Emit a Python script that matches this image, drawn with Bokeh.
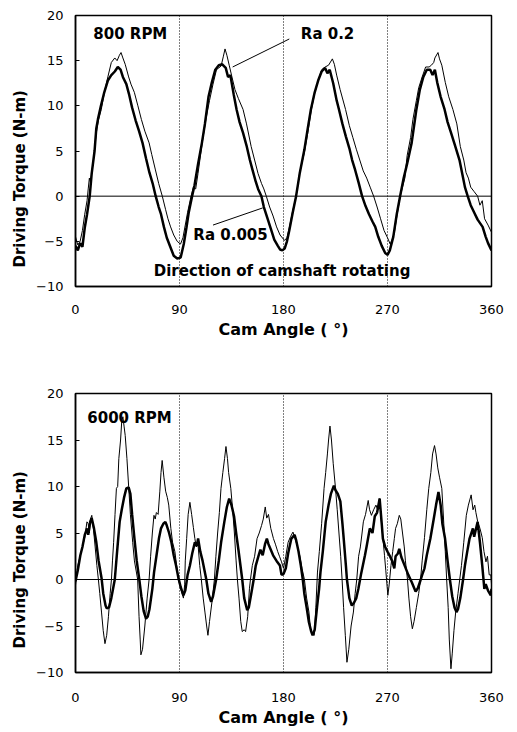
from bokeh.plotting import figure
from bokeh.layouts import column
from bokeh.models import Span, Label, FixedTicker, Range1d, Title
from bokeh.embed import file_html
from bokeh.resources import INLINE

# ---------------- data ----------------
x_ticks = [0, 90, 180, 270, 360]
y_ticks = [-10, -5, 0, 5, 10, 15, 20]
cycle_marks = [90, 180, 270]

# 800 RPM, Ra 0.005 (thick)
ang_800_a = [0, 2, 4, 6, 8, 10, 12.3, 14, 16.5, 18,
             19.4, 22, 24.9, 28, 31, 34, 36.6, 39, 41, 44,
             46.3, 49, 52, 55, 58, 61, 64, 67, 69.4, 72,
             74, 76.5, 79, 82, 85, 88, 91, 93.7, 96, 98,
             100.9, 103, 106, 109.4, 112, 115.1, 118, 121, 124, 127,
             130, 132, 134, 137, 139.4, 142, 145, 148, 150.9, 153,
             156, 158, 160.9, 163, 166, 169, 172, 175.1, 177, 179,
             181, 183, 185, 188, 190.9, 194, 198, 201, 203.7, 207,
             210, 213, 216, 218, 220, 223, 226, 228, 231, 234,
             237, 239.4, 242, 245, 248, 251, 254, 257, 259.4, 262,
             265, 268, 270, 272, 275, 278, 280.9, 284, 287, 290.9,
             293, 295, 298, 301, 304, 307, 309, 311, 313, 316,
             319.4, 322, 325, 328, 332.3, 335, 337, 339.4, 342, 345,
             348, 352.3, 355, 357, 360]
torque_800_a = [-5.5, -6.0, -5.2, -5.6, -3.5, -2.0, 0, 2.5, 5.0, 7.5,
                8.5, 10.0, 11.5, 12.8, 13.4, 13.8, 14.3, 14.0, 13.2, 12.4,
                11.3, 9.8, 8.4, 7.2, 5.9, 4.2, 2.6, 1.3, 0, -1.2,
                -2.0, -3.4, -4.6, -5.6, -6.6, -6.9, -6.8, -5.3, -3.5, -1.8,
                0, 1.2, 3.5, 5.9, 8.0, 11.0, 12.6, 14.0, 14.5, 14.6,
                14.2, 13.2, 13.4, 11.2, 9.6, 8.2, 7.0, 5.6, 4.0, 3.0,
                1.6, 0.8, 0, -1.2, -2.4, -3.6, -4.8, -5.5, -5.9, -6.0,
                -5.8, -5.0, -3.8, -1.8, 0, 2.5, 5.1, 7.5, 9.6, 11.5,
                12.8, 13.8, 14.2, 13.6, 14.0, 12.5, 10.6, 9.6, 8.0, 6.6,
                5.3, 4.0, 2.9, 1.5, 0, -1.1, -2.0, -2.8, -3.4, -4.5,
                -5.5, -6.3, -6.5, -6.0, -4.5, -2.0, 0, 2.0, 3.6, 5.9,
                7.8, 9.6, 11.8, 13.2, 14.0, 14.0, 13.4, 14.0, 12.6, 11.0,
                9.6, 8.2, 7.0, 5.8, 4.0, 2.3, 1.0, 0, -1.0, -1.8,
                -2.6, -3.4, -4.5, -5.2, -6.0]

# 800 RPM, Ra 0.2 (thin)
ang_800_b = [0, 2, 4, 6, 8, 10, 11, 12, 13, 14,
             16, 18, 20, 22.3, 25, 28, 31, 34, 36, 38,
             39.4, 41, 43, 46, 48, 50.9, 54, 57, 60, 63.7,
             66, 69, 72, 75.1, 78, 80, 82.3, 85, 88, 90.9,
             93, 95, 97, 100, 102, 104, 106, 110, 113, 116,
             119, 122, 124, 126, 128, 129.4, 131, 133, 135, 138,
             141, 145, 148, 152, 155, 158, 161, 163, 165.1, 168,
             171, 174, 177, 180.9, 183, 185, 188, 190.9, 194, 198,
             201, 204, 207, 210, 213, 216, 219, 222.3, 224, 226,
             229, 233.7, 237, 240, 243, 246, 249, 252, 255, 258,
             261, 264, 267, 270, 272.3, 274, 276, 278, 281, 283,
             285, 287, 290, 292, 295, 297, 300, 303, 306, 308,
             310, 311, 313.7, 315, 317, 320, 323, 326.6, 330, 333,
             336, 338, 340, 342, 345, 348, 350, 352, 354, 357,
             360]
torque_800_b = [-4.5, -5.4, -5.0, -3.8, -2.0, -0.5, 0.8, 2.0, 1.5, 2.5,
                4.5, 7.0, 8.5, 9.6, 11.5, 13.2, 14.8, 15.3, 15.0, 15.6,
                15.9, 15.3, 14.6, 13.2, 12.4, 11.5, 10.0, 8.5, 7.2, 5.9,
                4.6, 3.0, 1.4, 0, -1.5, -2.5, -3.4, -4.3, -5.0, -5.3,
                -4.6, -3.2, -1.8, 0, 1.0, 0.8, 2.5, 6.2, 8.6, 10.6,
                12.4, 14.0, 14.2, 14.4, 15.5, 16.3, 15.6, 14.5, 13.4, 11.8,
                10.8, 9.6, 8.0, 5.5, 4.0, 2.5, 1.4, 0.8, 0, -1.2,
                -2.2, -3.4, -4.3, -4.9, -4.6, -3.5, -1.6, 0, 2.6, 4.8,
                7.0, 9.5, 11.4, 12.8, 14.0, 14.3, 14.5, 15.2, 14.6, 13.4,
                11.8, 9.6, 7.8, 6.5, 5.2, 4.0, 2.8, 2.0, 1.0, 0,
                -1.2, -2.5, -3.8, -4.6, -5.3, -4.8, -4.0, -2.3, 0, 1.0,
                2.0, 4.5, 6.5, 8.5, 10.6, 12.0, 13.2, 14.3, 14.3, 14.5,
                14.8, 15.3, 15.9, 15.2, 14.5, 12.6, 11.0, 9.6, 8.0, 5.5,
                4.0, 2.6, 2.0, 1.0, 0.5, 0, -1.0, -0.5, -2.5, -3.2,
                -4.0]

# 6000 RPM, Ra 0.005 (thick)
ang_6000_a = [0, 2, 4.2, 6, 8, 10, 11, 12.7, 14, 16,
              18, 20, 22.6, 24, 26, 27, 29, 31, 34, 36,
              38.2, 40, 42, 44, 46, 47.5, 49, 51, 53, 55.2,
              57, 59, 61, 62.5, 64, 66.5, 68, 70, 72.2, 74,
              76, 77.8, 79, 81, 83, 85, 87, 89, 91, 93.4,
              95, 97, 99, 101, 103.3, 105, 106.1, 108, 110, 113.2,
              115, 117.4, 119, 121.7, 124, 126, 128.8, 131, 133, 135,
              137.2, 139, 141, 144.3, 146, 148.6, 150, 152, 154.2, 156,
              158.5, 160, 162, 164, 165.6, 167, 169, 171, 174, 176.9,
              178.3, 180, 182, 184, 186.8, 189.6, 191, 193, 195, 196.7,
              198, 200, 202, 204, 205.2, 207, 209, 210.8, 212, 214,
              216.5, 219, 221, 223.6, 225, 227, 229.2, 231, 232.1, 234,
              234.9, 237, 239.1, 241, 243, 244.8, 247, 250.5, 252, 254.7,
              257, 259, 261, 263.2, 265, 266, 268, 270, 271.7, 274,
              275.9, 277, 279, 280.2, 282, 285.8, 288, 291, 294.3, 296,
              298, 300, 302, 304, 307.1, 310, 312, 314.1, 316, 317.5,
              319.8, 322, 324, 326, 328, 329.7, 331, 333, 335.4, 337,
              339, 341, 343.9, 345, 348, 350, 352, 353.8, 355, 357,
              359.4, 360]
torque_6000_a = [-0.2, 1.0, 2.6, 3.5, 4.8, 5.5, 4.8, 6.2, 6.6, 5.5,
                 4.0, 2.0, 0.1, -1.5, -2.8, -3.1, -3.0, -2.0, 0, 3.0,
                 6.2, 7.5, 8.8, 9.8, 9.9, 9.2, 7.0, 4.4, 2.0, 0,
                 -1.8, -3.4, -4.2, -4.0, -3.2, -1.0, 0.8, 2.5, 4.4, 5.5,
                 6.0, 6.2, 5.8, 5.0, 4.0, 2.6, 1.5, 0.2, -0.8, -1.7,
                 -1.2, 0.5, 1.5, 2.8, 4.0, 3.6, 4.4, 3.0, 2.0, 0,
                 -1.5, -2.4, -1.8, 0, 2.0, 4.0, 6.2, 7.8, 8.7, 8.0,
                 6.8, 5.0, 3.2, 0, -2.0, -3.3, -3.0, -1.6, 0, 1.5,
                 2.6, 3.2, 2.6, 3.8, 4.4, 3.8, 3.2, 2.6, 2.0, 1.5,
                 0.5, 0.6, 1.2, 2.8, 4.4, 4.8, 4.2, 3.0, 1.5, 0,
                 -1.5, -3.0, -4.6, -5.6, -6.0, -5.4, -3.0, -1.0, 0.8, 3.0,
                 6.2, 8.0, 9.2, 10.1, 9.6, 9.2, 8.4, 6.0, 4.4, 1.5,
                 0, -2.0, -2.8, -2.5, -2.0, -1.0, 0.5, 2.6, 3.6, 5.5,
                 5.0, 6.8, 7.2, 8.7, 6.0, 4.4, 3.5, 3.0, 2.6, 2.0,
                 1.2, 2.5, 2.8, 3.3, 2.4, 1.2, 0.5, -0.3, -1.3, -1.0,
                 -0.3, 0.5, 1.2, 2.6, 4.4, 6.5, 8.0, 9.4, 8.0, 6.0,
                 4.4, 2.0, 0, -1.8, -3.0, -3.5, -3.2, -2.0, 0, 1.5,
                 3.0, 4.4, 5.5, 4.6, 6.2, 4.0, 1.5, -1.0, -0.5, -1.2,
                 -1.7, -1.0]

# 6000 RPM, Ra 0.2 (thin)
ang_6000_b = [0, 2, 4, 6, 8, 9.9, 11, 12, 13, 14.1,
              15.5, 17, 18.5, 19.8, 21, 22.5, 24, 25.5, 27, 28.5,
              30, 31.1, 32, 33, 34.2, 35.4, 36.5, 37.5, 39, 40,
              41, 42, 43, 44.5, 46, 47.5, 49.5, 51, 53.8, 55,
              56, 56.6, 58, 60, 62, 63.7, 65, 66.5, 67.9, 69,
              70, 71.5, 73, 74, 75, 76.5, 78, 79.5, 80.7, 82.5,
              84, 86, 87.5, 89.1, 91, 93.4, 94.5, 95, 96.2, 97.5,
              99, 100.5, 102, 103.3, 104.5, 106, 107.5, 108.9, 110.5, 112,
              113.5, 114.6, 116, 118, 120.2, 121.5, 123, 124.5, 125.9, 127.5,
              129, 130.2, 131.5, 132.5, 134.4, 136, 137.5, 139, 140.1, 141.5,
              143, 144.3, 146, 147.2, 149, 150.5, 151.4, 153, 155, 157.1,
              159, 161, 162.5, 164.2, 165.5, 167, 169, 171.3, 173, 175,
              176.5, 178.3, 180, 182, 184, 186, 188.2, 190, 192, 194,
              196, 198.1, 200, 202, 203.5, 205, 206.6, 208, 209.4, 211,
              213, 215.1, 216.5, 218, 219, 220.2, 221.5, 223, 225, 226.5,
              228, 229.5, 230.7, 232, 233.5, 234.9, 236.5, 238.5, 240.5, 242,
              243.4, 245, 246.5, 248, 249.1, 251, 253.3, 254.5, 256.1, 258,
              260, 261.5, 263.2, 264.5, 266, 267.4, 268.5, 270.3, 271.5, 273,
              274.5, 275.9, 277, 278.5, 280.2, 281.5, 283, 284.5, 285.5, 287.3,
              288.5, 290, 291.5, 293, 295, 297, 298.6, 300, 302, 304,
              305.7, 307.5, 309, 310.7, 312, 313.5, 315, 317, 318.5, 320,
              321.2, 322.5, 323.5, 324.9, 326, 327.5, 329, 331, 332.5, 334,
              336, 338.2, 340, 342.4, 344, 345.5, 346.5, 348.1, 350, 352,
              353.5, 355.2, 356.5, 358, 359.4, 360]
torque_6000_b = [-0.6, 1.5, 2.5, 3.5, 4.5, 6.2, 6.0, 5.0, 6.5, 6.9,
                 5.5, 3.5, 1.5, 0, -1.5, -3.5, -5.5, -6.9, -6.0, -4.0,
                 -1.5, 0, 2.0, 4.0, 7.0, 9.8, 10.0, 13.0, 15.0, 17.0,
                 17.5, 16.5, 15.5, 13.0, 10.0, 7.0, 4.0, 2.0, 0, -4.0,
                 -6.5, -8.1, -7.5, -5.0, -2.0, 0, 2.5, 5.0, 6.9, 6.5,
                 7.2, 7.0, 9.5, 11.5, 12.8, 11.0, 9.5, 8.8, 8.0, 5.5,
                 4.0, 3.0, 1.5, 0, -1.0, -2.0, -0.5, 2.0, 4.4, 7.0,
                 8.3, 7.0, 5.6, 4.4, 3.5, 3.8, 1.5, 0, -2.0, -3.5,
                 -5.0, -6.0, -4.5, -2.5, 0, 2.5, 5.0, 7.2, 9.8, 11.5,
                 13.0, 14.3, 13.0, 11.5, 9.8, 7.5, 5.0, 2.0, 0, -2.0,
                 -4.5, -5.6, -5.4, -5.6, -4.0, -1.0, 0, 1.5, 2.5, 4.4,
                 5.0, 5.8, 6.5, 7.8, 6.6, 7.0, 5.5, 4.4, 3.8, 3.0,
                 2.5, 1.9, 1.2, 2.5, 4.0, 4.6, 5.1, 4.4, 3.6, 2.6,
                 1.2, 0, -2.0, -3.5, -5.5, -5.8, -6.0, -3.0, 0.8, 3.0,
                 6.0, 9.8, 11.5, 13.5, 15.0, 16.5, 15.0, 12.5, 9.8, 7.5,
                 5.0, 2.5, 0, -3.0, -6.0, -8.9, -7.5, -5.0, -3.5, -1.5,
                 0, 2.5, 3.5, 5.0, 6.2, 7.0, 8.5, 7.5, 6.9, 7.5,
                 8.0, 7.5, 8.7, 6.5, 4.5, 2.6, 1.0, -1.7, -0.5, 1.5,
                 3.0, 4.4, 5.5, 6.0, 6.9, 6.5, 5.0, 3.5, 2.0, 0,
                 -2.0, -4.0, -5.3, -4.5, -3.0, -1.5, 0, 2.0, 4.5, 7.5,
                 9.8, 11.5, 13.5, 14.4, 13.5, 12.0, 11.0, 9.8, 6.5, 3.0,
                 0, -3.0, -6.5, -9.6, -8.0, -5.5, -3.5, -1.5, 0, 1.5,
                 4.0, 6.9, 8.0, 9.1, 7.5, 8.0, 7.2, 6.2, 5.5, 4.5,
                 3.0, 1.9, 2.5, 0.5, 0.5, -0.5]

FONT = "DejaVu Sans"


def make_panel(height, left, right, top, bottom, label_standoff, ytitle_offset):
    p = figure(width=517, height=height,
               x_range=Range1d(0, 360), y_range=Range1d(-10, 20),
               output_backend="svg", toolbar_location=None,
               min_border_left=left, min_border_right=right,
               min_border_top=top, min_border_bottom=bottom)
    p.background_fill_color = "white"
    p.border_fill_color = "white"
    p.outline_line_color = "black"
    p.outline_line_width = 1.5
    p.ygrid.visible = False
    p.xgrid.ticker = FixedTicker(ticks=cycle_marks)
    p.xgrid.grid_line_color = "black"
    p.xgrid.grid_line_dash = "1 2"
    p.xgrid.grid_line_width = 1
    p.xaxis.ticker = FixedTicker(ticks=x_ticks)
    p.yaxis.ticker = FixedTicker(ticks=y_ticks)
    for ax in (p.xaxis[0], p.yaxis[0]):
        ax.axis_line_color = "black"
        ax.axis_line_width = 1.5
        ax.major_label_text_font = FONT
        ax.major_label_text_font_size = "13px"
        ax.major_label_text_color = "black"
        ax.minor_tick_line_color = None
        ax.major_tick_line_color = "black"
    p.xaxis.major_tick_in = 0
    p.xaxis.major_tick_out = 0
    p.xaxis.major_label_standoff = label_standoff
    p.yaxis.major_tick_in = 4
    p.yaxis.major_tick_out = 0
    p.yaxis.major_label_standoff = 12
    p.xaxis.axis_label = "Cam Angle ( °)"
    p.xaxis.axis_label_text_font = FONT
    p.xaxis.axis_label_text_font_style = "bold"
    p.xaxis.axis_label_text_font_size = "16px"
    p.xaxis.axis_label_text_color = "black"
    p.xaxis.axis_label_standoff = 3
    p.add_layout(Title(text="Driving Torque (N-m)", align="left", offset=ytitle_offset,
                       text_font=FONT, text_font_style="bold", text_font_size="15px",
                       text_color="black"), "left")
    p.add_layout(Span(location=0, dimension="width", line_color="black", line_width=1))
    return p


def add_text(p, x, y, text):
    p.add_layout(Label(x=x, y=y, text=text, text_align="left", text_baseline="middle",
                       text_font=FONT, text_font_style="bold",
                       text_font_size="15px", text_color="black"))


# ---------------- top panel: 800 RPM ----------------
p1 = make_panel(360, 69, 26, 15, 74, 18, 19)
p1.line(ang_800_b, torque_800_b, line_color="black", line_width=1)
p1.line(ang_800_a, torque_800_a, line_color="black", line_width=2.5)
p1.line([136, 185], [14.3, 17.4], line_color="black", line_width=1)
p1.line([119, 162], [-3.2, -1.3], line_color="black", line_width=1)
add_text(p1, 15.4, 17.95, "800 RPM")
add_text(p1, 195, 17.95, "Ra 0.2")
add_text(p1, 102, -4.35, "Ra 0.005")
add_text(p1, 67.7, -8.25, "Direction of camshaft rotating")

# ---------------- bottom panel: 6000 RPM ----------------
p2 = make_panel(372, 75, 18, 33, 60, 20, 24)
p2.line(ang_6000_b, torque_6000_b, line_color="black", line_width=1)
p2.line(ang_6000_a, torque_6000_a, line_color="black", line_width=2.5)
add_text(p2, 10.2, 17.4, "6000 RPM")

layout = column(p1, p2, spacing=0)
open("out.html", "w").write(file_html(layout, INLINE))
